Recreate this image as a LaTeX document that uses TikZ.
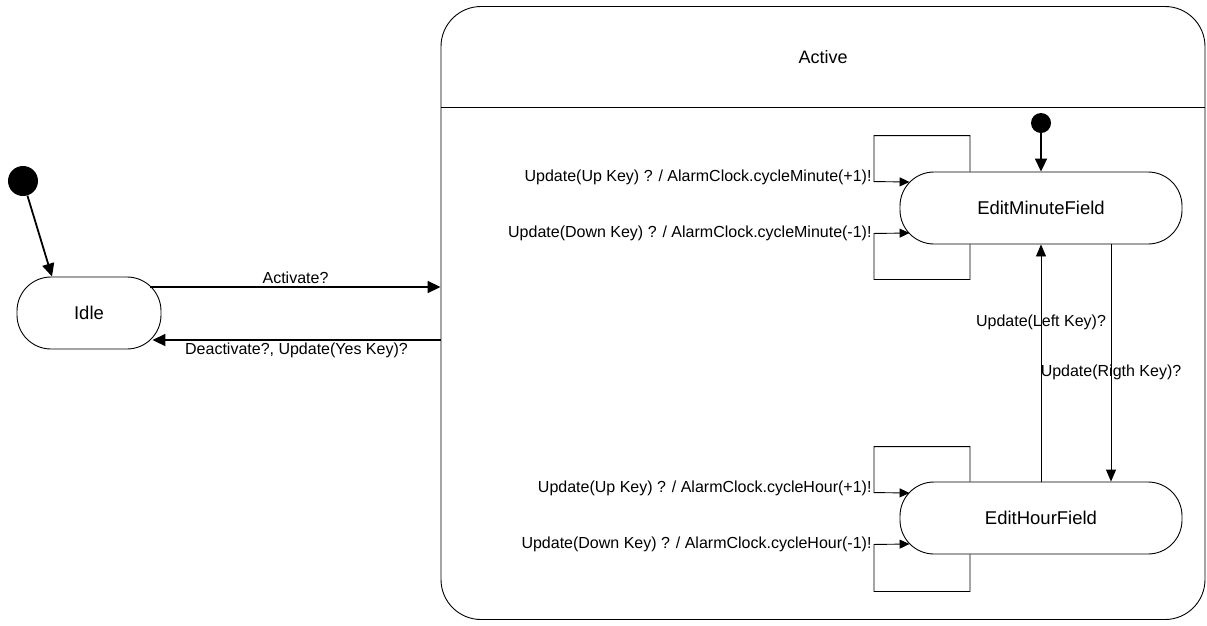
\documentclass[tikz,border=0pt]{standalone}
\usepackage{fontspec}
\setmainfont{Liberation Sans}
\usetikzlibrary{arrows.meta,positioning}

\begin{document}
\begin{tikzpicture}[x=1pt,y=-1pt,on grid,node distance=310pt,
	statebox/.style={draw,line width=0.9pt,rounded corners=34pt,minimum height=72pt,font=\fontsize{18.5}{22}\selectfont},
	initdot/.style={circle,fill=black,inner sep=0pt},
	lbl/.style={font=\fontsize{16}{18}\selectfont,inner sep=2pt},
	trans/.style={line width=1.8pt,-{Triangle[length=13pt,width=12pt]}},
	selfloop/.style={line width=0.9pt,-{Triangle[length=10pt,width=9pt]}}]
	\useasboundingbox (0,0) rectangle (1207,625);

	\node[initdot,minimum size=30pt] (init) at (23,181) {};
	\node[statebox,minimum width=144pt] (idle) at (89,313) {Idle};
	\node[draw,line width=0.9pt,rounded corners=40pt,minimum width=764pt,minimum height=613pt] (active) at (823,313) {};
	\node[font=\fontsize{18}{22}\selectfont] (activename) at (823,57) {Active};
	\draw[line width=0.9pt] (active.west |- 0,107) -- (active.east |- 0,107);
	\node[statebox,minimum width=282pt] (editmin) at (1041,208) {EditMinuteField};
	\node[statebox,minimum width=282pt] (edithour) [below = of editmin] {EditHourField};
	\node[initdot,minimum size=20pt] (init2) [above = 85pt of editmin] {};

	\path[trans]
	(init) edge ([xshift=-37pt]idle.north)
	([shift={(-11pt,26pt)}]idle.east) edge node[lbl,above] {Activate?} ([yshift=26pt]active.west)
	([yshift=-27pt]active.west) edge node[lbl,below] {Deactivate?, Update(Yes Key)?} ([shift={(-9pt,-27pt)}]idle.east)
	(init2) edge (editmin.north);

	\path[line width=0.9pt,-{Triangle[length=12pt,width=10pt]}]
	(edithour.north) edge node[lbl,pos=0.67] {Update(Left Key)?} (editmin.south)
	([xshift=70pt]editmin.south) edge node[lbl,pos=0.54] {Update(Rigth Key)?} ([xshift=70pt]edithour.north);

	\draw[selfloop] ([xshift=-71pt]editmin.north) -- ++(0,-36) -| ++(-96,46)
		node[lbl,left,yshift=4pt] {Update(Up Key) ? / AlarmClock.cycleMinute(+1)!} -- ([shift={(10pt,26pt)}]editmin.west);
	\draw[selfloop] ([xshift=-71pt]editmin.south) -- ++(0,35) -| ++(-96,-46)
		node[lbl,left] {Update(Down Key) ? / AlarmClock.cycleMinute(-1)!} -- ([shift={(10pt,-25pt)}]editmin.west);
	\draw[selfloop] ([xshift=-71pt]edithour.north) -- ++(0,-35) -| ++(-96,46)
		node[lbl,left,yshift=4pt] {Update(Up Key) ? / AlarmClock.cycleHour(+1)!} -- ([shift={(10pt,25pt)}]edithour.west);
	\draw[selfloop] ([xshift=-71pt]edithour.south) -- ++(0,37) -| ++(-96,-47)
		node[lbl,left] {Update(Down Key) ? / AlarmClock.cycleHour(-1)!} -- ([shift={(10pt,-26pt)}]edithour.west);

\end{tikzpicture}
\end{document}
